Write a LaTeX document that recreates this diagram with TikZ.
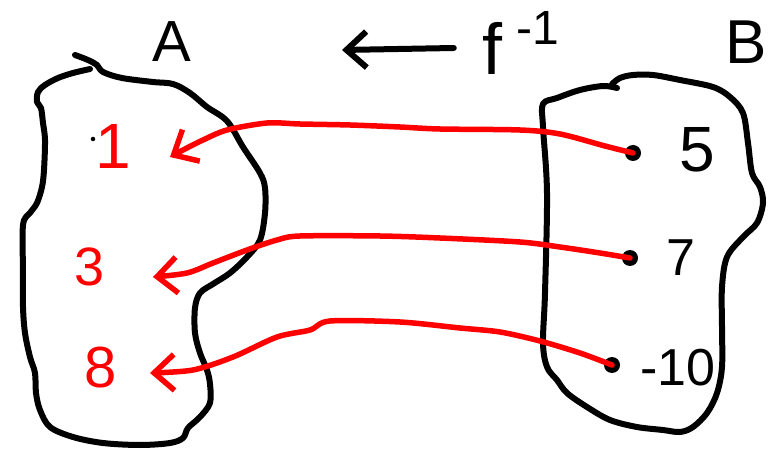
\documentclass[tikz,border=0pt]{standalone}
\usepackage{fontspec}
\setmainfont{Liberation Sans}
\usetikzlibrary{arrows.meta, positioning}

\begin{document}
\begin{tikzpicture}[x=1pt, y=-1pt, >={Straight Barb[length=20pt, width=36pt]}]
        \tikzset{
            blobline/.style={draw=black, line width=6pt, line cap=round, line join=round},
            mapline/.style={draw=red, line width=5.5pt, line cap=round, line join=round, ->},
            topline/.style={draw=black, line width=6pt, line cap=round, ->},
            rednum/.style={text=red, inner sep=0pt, font=\fontsize{#1}{#1}\selectfont},
            blacknum/.style={text=black, inner sep=0pt, font=\fontsize{#1}{#1}\selectfont},
            elemdot/.style={circle, fill=black, minimum size=16pt, inner sep=0pt},
            straydot/.style={circle, fill=black, minimum size=4.5pt, inner sep=0pt}
        }
        \useasboundingbox (0,0) rectangle (777,449);

        % set A
        \draw [blobline] plot[smooth, tension=0.55] coordinates {
            (75,55) (88,60) (97,65) (103,72) (122,78) (153,82) (173,84) (190,93) (207,107)
            (227,121) (243,147) (260,173) (265,188) (265,213) (260,240) (247,257) (230,273)
            (213,284) (200,293) (195,308) (195,333) (200,353) (207,370) (210,384) (210,403)
            (200,417) (188,428) (183,438) (170,443) (140,445) (103,443) (73,437) (50,427)
            (40,410) (36,393) (35,373) (30,357) (25,333) (23,307) (23,273) (23,225) (30,213)
            (37,203) (42,187) (44,170) (45,140) (43,123) (41,108) (37,102) (38,92) (45,85)
            (58,78) (73,73) (90,69)};

        % set B
        \draw [blobline] plot[smooth, tension=0.55] coordinates {
            (617,88) (603,86) (580,90) (557,98) (543,104) (543,127) (547,193) (545,293)
            (543,343) (547,367) (557,380) (567,393) (587,407) (610,420) (637,427) (663,430)
            (680,432) (693,427) (707,413) (717,393) (722,367) (722,327) (722,287) (727,257)
            (743,237) (757,223) (763,203) (760,187) (752,173) (748,143) (743,113) (730,97)
            (713,87) (680,80) (653,75) (633,75) (620,78) (612,84)};

        \node [blacknum=58] (setA) at (172,42) {A};
        \node [blacknum=62] (setB) at (746,42) {B};

        % f^{-1}
        \node [blacknum=72] (fname) at (492,48) {f};
        \node [blacknum=48] (fexp) at (538,28) {-1};
        \coordinate (fend) at (342,50);
        \draw [topline] (fname.west) ++(-28pt,0) -- (fend);

        % elements
        \node [rednum=64] (one) at (113,146) {1};
        \node [straydot] (stray) at (93,139) {};
        \node [rednum=54] (three) at (90,267) {3};
        \node [rednum=58] (eight) at (101,368) {8};

        \node [blacknum=64] (five) at (697,150) {5};
        \node [blacknum=52] (seven) at (681,258) {7};
        \node [blacknum=52] (minusten) at (678,368) {-10};

        \node [elemdot] (d5) at (633,153) {};
        \node [elemdot] (d7) at (630,258) {};
        \node [elemdot] (d10) at (612,365) {};

        \coordinate (t1) at (170,157);
        \coordinate (t3) at (153,277);
        \coordinate (t8) at (150,373);

        \draw [mapline] plot[smooth] coordinates {(d5.center) (605,146) (560,134) (520,130)
            (440,129) (400,127) (350,125) (300,124) (267,123) (227,130) (203,140) (183,150) (t1)};
        \draw [mapline] plot[smooth] coordinates {(d7.center) (600,253) (560,247) (520,242)
            (440,238) (380,236) (300,236) (277,240) (247,250) (213,263) (187,273) (t3)};
        \draw [mapline] plot[smooth] coordinates {(d10.center) (580,353) (540,341) (500,332)
            (460,328) (400,322) (330,321) (310,330) (277,337) (233,357) (193,370) (t8)};
    \end{tikzpicture}
\end{document}
